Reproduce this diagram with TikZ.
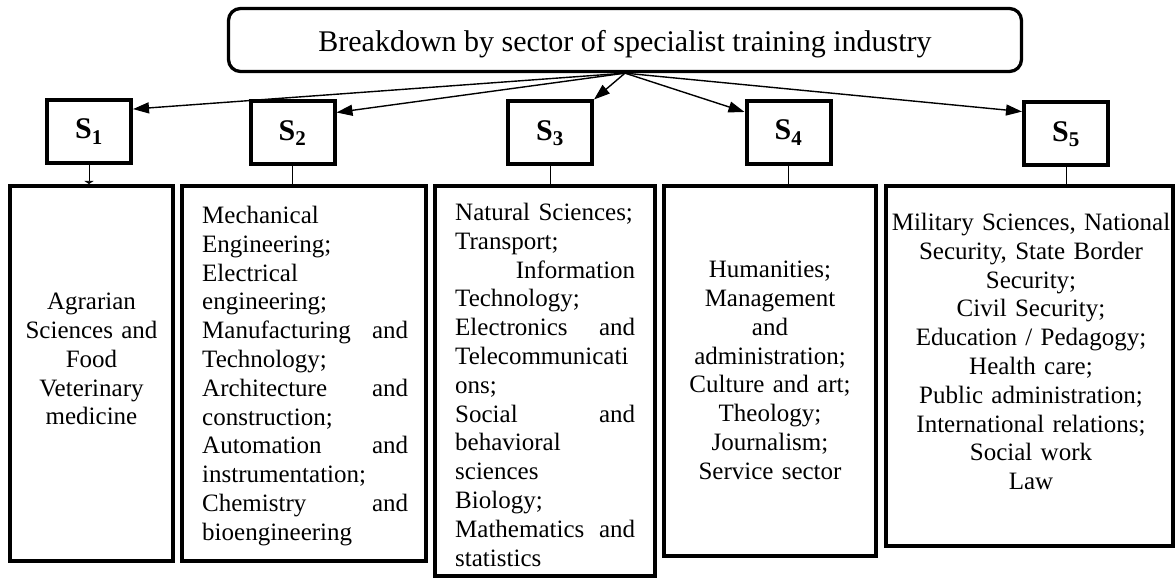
\documentclass[tikz,border=0pt]{standalone}
\usepackage{fontspec}
\setmainfont{Liberation Serif}
\usetikzlibrary{arrows.meta}
\hyphenpenalty=10000
\exhyphenpenalty=10000
\begin{document}
\begin{tikzpicture}[x=1pt,y=-1pt,
  titlebox/.style={draw, line width=3.3pt, rounded corners=12pt, minimum width=793pt, minimum height=63pt, inner sep=0pt, font=\fontsize{30}{36}\selectfont, text height=25pt, text depth=2pt},
  sbox/.style={draw, line width=4pt, minimum width=84pt, minimum height=63pt, inner sep=0pt, font=\fontsize{30}{34}\selectfont\bfseries},
  bigbox/.style={draw, line width=4pt, inner sep=0pt},
  body/.style={inner sep=0pt, font=\fontsize{25}{28.8}\selectfont},
  link/.style={line width=1pt},
  arr/.style={line width=1.4pt, -{Triangle[length=16pt,width=11pt]}},
]
\useasboundingbox (0,0) rectangle (1176,580);

% title
\node[titlebox] (t) at (625,40) {Breakdown by sector of specialist training industry};

% sector boxes
\node[sbox] (s1) at (89,131.5) {S\textsubscript{1}};
\node[sbox] (s2) at (292.5,133) {S\textsubscript{2}};
\node[sbox] (s3) at (550,133) {S\textsubscript{3}};
\node[sbox] (s4) at (788.5,132.5) {S\textsubscript{4}};
\node[sbox] (s5) at (1066,134) {S\textsubscript{5}};

% big boxes
\node[bigbox, minimum width=163pt, minimum height=375pt] (b1) at (91.5,373.5) {};
\node[bigbox, minimum width=244pt, minimum height=375pt] (b2) at (304,373.5) {};
\node[bigbox, minimum width=220pt, minimum height=390pt] (b3) at (545,381) {};
\node[bigbox, minimum width=212pt, minimum height=370pt] (b4) at (770,371) {};
\node[bigbox, minimum width=287pt, minimum height=360pt] (b5) at (1029.5,366) {};

% texts
\node[body, anchor=north, text width=160pt, align=center] (x1) at (91.5,293)
  {Agrarian\\ Sciences and\\ Food\\ Veterinary\\ medicine};
\node[body, anchor=north west, text width=206pt, align=left] (x2) at (202,206)
  {Mechanical\\ Engineering;\\ Electrical\\ engineering;\\ Manufacturing\hfill and\\ Technology;\\ Architecture\hfill and\\ construction;\\ Automation\hfill and\\ instrumentation;\\ Chemistry\hfill and\\ bioengineering};
\node[body, anchor=north west, text width=180pt, align=left] (x3) at (455,203)
  {Natural Sciences;\\ Transport;\\ \hfill Information\\ Technology;\\ Electronics\hfill and\\ Telecommunicati\\ ons;\\ Social\hfill and\\ behavioral\\ sciences\\ Biology;\\ Mathematics\hfill and\\ statistics};
\node[body, anchor=north, text width=210pt, align=center] (x4) at (770,261)
  {Humanities;\\ Management\\ and\\ administration;\\ Culture and art;\\ Theology;\\ Journalism;\\ Service sector};
\node[body, anchor=north, text width=285pt, align=center] (x5) at (1031,213)
  {Military Sciences, National\\ Security, State Border\\ Security;\\ Civil Security;\\ Education / Pedagogy;\\ Health care;\\ Public administration;\\ International relations;\\ Social work\\ Law};

% connectors sector -> box
\draw[link, -{Triangle[length=3pt,width=9pt]}] (s1.south) -- (s1.south |- b1.north);
\draw[link] (s2.south) -- (s2.south |- b2.north);
\draw[link] (s3.south) -- (s3.south |- b3.north);
\draw[link] (s4.south) -- (s4.south |- b4.north);
\draw[link] (s5.south) -- (s5.south |- b5.north);

% arrows title -> sectors
\draw[arr] (t.south) -- (s1.27);
\draw[arr] (t.south) -- (s2.25);
\draw[arr] (t.south) -- (s3.north east);
\draw[arr] (t.south) -- (s4.155);
\draw[arr] (t.south) -- (s5.153);
\end{tikzpicture}
\end{document}
